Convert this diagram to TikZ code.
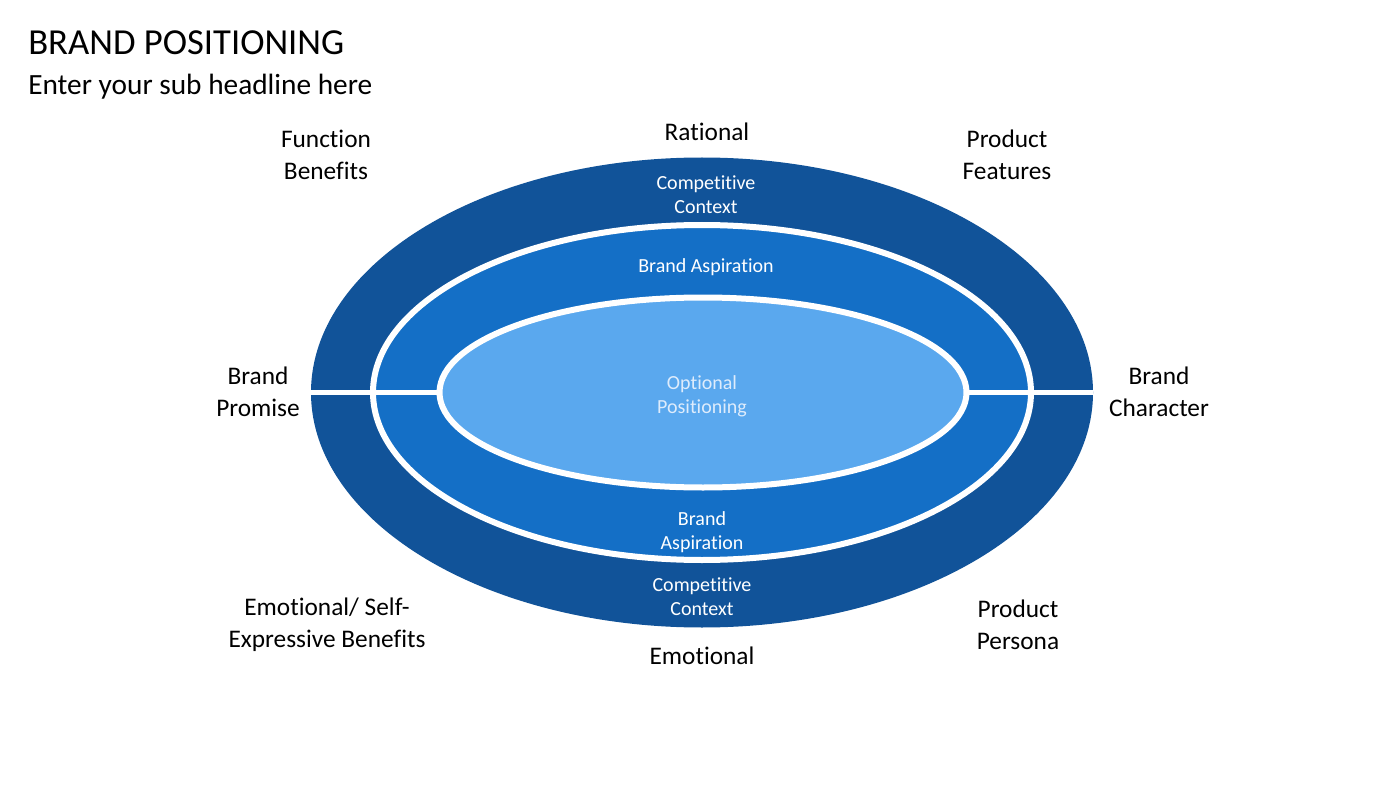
\documentclass[tikz,border=0pt]{standalone}
\usepackage{fontspec}
\setmainfont{Carlito}[RawFeature={-liga;-clig;-calt;-dlig;-rlig}]
\usetikzlibrary{shapes.geometric}
\definecolor{RingDark}{RGB}{17,83,153}
\definecolor{RingMid}{RGB}{20,111,198}
\definecolor{RingLight}{RGB}{90,168,238}
\definecolor{CoreText}{RGB}{222,236,252}

\begin{document}
\begin{tikzpicture}[x=0.75pt,y=-0.75pt]
  \tikzset{RingStyle/.style = {
    shape         = ellipse,
    draw          = white,
    line width    = 4.5pt,
    inner sep     = 0pt,
    outer sep     = 0pt
    }
  }
  \tikzset{LabelStyle/.style = {
    align         = center,
    text          = black,
    inner sep     = 0pt,
    font          = \fontsize{19}{24}\selectfont
    }
  }
  \tikzset{RingLabelStyle/.style = {
    align         = center,
    text          = white,
    inner sep     = 0pt,
    font          = \fontsize{15}{18}\selectfont
    }
  }
  \tikzset{SepStyle/.style = {
    draw          = white,
    line width    = 3.75pt
    }
  }
  \useasboundingbox[fill=white] (0,0) rectangle (1400,788);

  % title
  \node[anchor=west, inner sep=0pt, font=\fontsize{27.5}{32}\selectfont](Title) at (28, 43) {BRAND POSITIONING};
  \node[anchor=west, inner sep=0pt, font=\fontsize{22}{26}\selectfont](Sub) at (28, 87) {Enter your sub headline here};

  % rings
  \node[RingStyle, draw=none, fill=RingDark, minimum width=586.5pt, minimum height=352.5pt](Outer) at (702, 392.5) {};
  \node[RingStyle, fill=RingMid, minimum width=493.5pt, minimum height=251.25pt](Middle) at (702, 392.5) {};
  \node[RingStyle, draw=none, minimum width=395.25pt, minimum height=142.5pt](InnerPos) at (703, 392.5) {};
  \draw[SepStyle](Outer.west) -- (InnerPos.west);
  \draw[SepStyle](Outer.east) -- (InnerPos.east);
  \node[RingStyle, fill=RingLight, minimum width=395.25pt, minimum height=142.5pt](Inner) at (InnerPos) {};

  % ring texts
  \node[RingLabelStyle](TopCtx) at (706, 195) {Competitive\\Context};
  \node[RingLabelStyle](TopAsp) at (706, 267) {Brand Aspiration};
  \node[RingLabelStyle, text=CoreText](Core) at (702, 396) {Optional\\Positioning};
  \node[RingLabelStyle](BotAsp) at (702, 532) {Brand\\Aspiration};
  \node[RingLabelStyle](BotCtx) at (702, 597) {Competitive\\Context};

  % outer texts
  \node[LabelStyle](Rational) at (707, 132) {Rational};
  \node[LabelStyle](Emotional) at (702, 656) {Emotional};
  \node[LabelStyle](Function) at (326, 155) {Function\\Benefits};
  \node[LabelStyle](Features) at (1007, 155) {Product\\Features};
  \node[LabelStyle](Promise) at (258, 392) {Brand\\Promise};
  \node[LabelStyle](Character) at (1159, 392) {Brand\\Character};
  \node[LabelStyle](SelfExpr) at (327, 625) {Emotional/ Self-\\Expressive Benefits};
  \node[LabelStyle](Persona) at (1018, 625) {Product\\Persona};

\end{tikzpicture}
\end{document}
